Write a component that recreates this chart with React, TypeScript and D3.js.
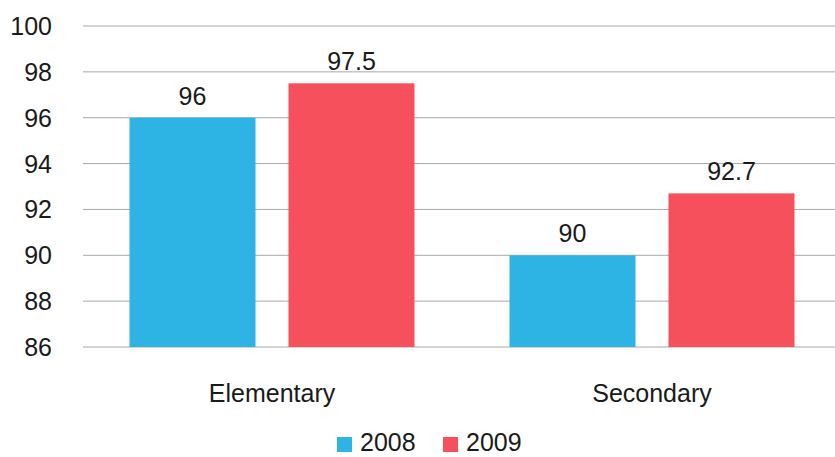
import React from "react";
import * as d3 from "d3";

const categories = ["Elementary", "Secondary"];
const seriesNames = ["2008", "2009"];
const values2008 = [96, 90];
const values2009 = [97.5, 92.7];
const valueLabels2008 = ["96", "90"];
const valueLabels2009 = ["97.5", "92.7"];
const yTicks = [86, 88, 90, 92, 94, 96, 98, 100];
const colors = ["#2db4e4", "#f7505d"];

export default function App() {
  const W = 835, H = 457;
  const y = d3.scaleLinear().domain([86, 100]).range([347, 26]);
  const x0 = d3.scaleBand<string>().domain(categories).range([82, 842]).paddingInner(0.25).paddingOuter(0.125);
  const x1 = d3.scaleBand<string>().domain(seriesNames).range([0, x0.bandwidth()]).paddingInner(0.2075);
  const series = [values2008, values2009];
  const labels = [valueLabels2008, valueLabels2009];
  const font = "'Liberation Sans', Arial, sans-serif";
  return (
    <svg width={W} height={H} style={{ position: "absolute", left: 0, top: 0, background: "#fff" }} fontFamily={font}>
      {yTicks.map((t) => (
        <g key={t}>
          <line x1={83} x2={835} y1={y(t)} y2={y(t)} stroke="#a8a8a8" strokeWidth={1} />
          <text x={52} y={y(t)} dy="0.36em" textAnchor="end" fontSize={25} fill="#1a1a1a">{t}</text>
        </g>
      ))}
      {categories.map((c, ci) => (
        <g key={c}>
          {seriesNames.map((s, si) => {
            const v = series[si][ci];
            const bx = (x0(c) ?? 0) + (x1(s) ?? 0);
            return (
              <g key={s}>
                <rect x={bx} y={y(v)} width={x1.bandwidth()} height={y(86) - y(v)} fill={colors[si]} />
                <text x={bx + x1.bandwidth() / 2} y={y(v) - 13} textAnchor="middle" fontSize={25} fill="#1a1a1a">{labels[si][ci]}</text>
              </g>
            );
          })}
          <text x={(x0(c) ?? 0) + x0.bandwidth() / 2} y={402} textAnchor="middle" fontSize={25} fill="#1a1a1a">{c}</text>
        </g>
      ))}
      {seriesNames.map((s, si) => {
        const lx = 337 + si * 106;
        return (
          <g key={s}>
            <rect x={lx} y={437} width={15} height={15} fill={colors[si]} />
            <text x={lx + 23} y={451} fontSize={25} fill="#1a1a1a">{s}</text>
          </g>
        );
      })}
    </svg>
  );
}
